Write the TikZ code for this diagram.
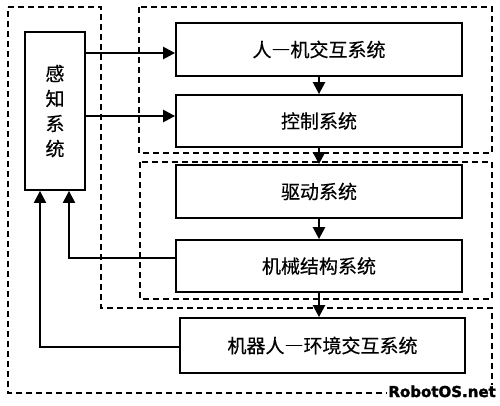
\documentclass[tikz,border=0pt]{standalone}
\usepackage{fontspec}
\newfontfamily\cjk[CharacterWidth=Full,FakeBold=0.4]{Noto Sans CJK SC}
\newfontfamily\wm[FakeBold=2]{DejaVu Sans Bold}
\usetikzlibrary{arrows.meta}
\begin{document}
\begin{tikzpicture}[x=1pt,y=-1pt,
  sysbox/.style={draw,line width=1.8pt,inner sep=0pt,font=\cjk\fontsize{19}{19}\selectfont},
  arr/.style={line width=2.4pt,-{Triangle[length=12pt,width=12pt]}},
  fb/.style={line width=2.2pt,-{Triangle[length=12pt,width=12pt]}},
  grp/.style={line width=1.7pt,dash pattern=on 6pt off 4pt}]
\useasboundingbox (0,0) rectangle (500,405);
\fill[white] (0,0) rectangle (500,405);
% dashed groups
\draw[grp] (8,7) -- (101,7) -- (101,308) -- (492,308) -- (492,393) -- (8,393) -- cycle;
\draw[grp] (139,7) rectangle (492,153);
\draw[grp] (140,162) rectangle (492,299);
% boxes
\node[sysbox,minimum width=60pt,minimum height=158pt,align=center,
  font=\cjk\fontsize{19}{25}\selectfont] (sense) at (55,111) {感\\知\\系\\统};
\node[sysbox,minimum width=286pt,minimum height=53pt] (hmi) at (319,49.5) {人—机交互系统};
\node[sysbox,minimum width=286pt,minimum height=52pt] (ctrl) at (319,121) {控制系统};
\node[sysbox,minimum width=286pt,minimum height=53pt] (drive) at (319,191.5) {驱动系统};
\node[sysbox,minimum width=286pt,minimum height=52pt] (mech) at (319,266) {机械结构系统};
\node[sysbox,minimum width=285pt,minimum height=55pt] (env) at (322.5,345.5) {机器人—环境交互系统};
% arrows
\draw[arr] (sense.east |- 0,53) -- (hmi.west |- 0,53);
\draw[arr] (sense.east |- 0,116) -- (ctrl.west |- 0,116);
\draw[arr] (hmi.south) -- (ctrl.north);
\draw[arr] (ctrl.south) -- (drive.north);
\draw[arr] (drive.south) -- (mech.north);
\draw[arr] (mech.south) -- (mech.south |- env.north);
\draw[fb] (mech.west |- 0,258) -| ([xshift=14pt]sense.south);
\draw[fb] (env.west |- 0,347) -| ([xshift=-15pt]sense.south);
% watermark
\node[anchor=base east,fill=white,inner sep=1pt,font=\wm\fontsize{15}{15}\selectfont] (wmk) at (497,397) {RobotOS.net};
\end{tikzpicture}
\end{document}
